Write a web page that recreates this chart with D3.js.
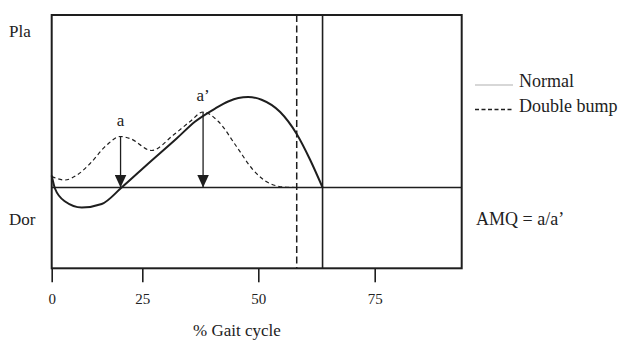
<!DOCTYPE html>
<html>
<head>
<meta charset="utf-8">
<script src="https://cdn.jsdelivr.net/npm/d3@7"></script>
<style>
  html, body { margin: 0; padding: 0; background: #fff; }
</style>
</head>
<body>
<svg id="chart" width="625" height="342"></svg>
<script>
// Ankle angle over the gait cycle (plantarflexion positive)
const xTicks = [0, 25, 50, 75];

const normalX = [0, 0.9, 3.7, 8.3, 13.8, 19.3, 26.3, 32.4, 36.4, 40.7, 43.5, 45.7, 47.8, 50.7, 54.7, 58.25, 61.1, 63.8];
const normalY = [1.2, -0.1, -1.4, -2.0, -1.65, 0, 2.4, 4.9, 6.6, 7.9, 8.6, 8.95, 9.05, 8.78, 7.55, 5.35, 2.8, 0];

const bumpX = [0, 3.6, 7.0, 10.6, 15.2, 18.9, 21.6, 27.0, 31.7, 35.3, 38.1, 41.4, 45.3, 48.9, 52.5, 56.1, 58.25];
const bumpY = [1.1, 0.75, 1.25, 2.4, 4.25, 5.1, 4.9, 3.7, 5.25, 6.6, 7.55, 6.6, 4.1, 1.75, 0.4, 0.02, 0];

// Peak-to-baseline arrows: a (first bump) and a' (second bump)
const arrowNames = ["a", "a\u2019"];
const arrowX = [19.0, 38.1];
const arrowTop = [5.1, 7.55];

// End of stance phase for each pattern
const toeOffNormal = 63.8;
const toeOffBump = 58.25;

const serif = "'Liberation Serif', 'Times New Roman', serif";
const ink = "#1e1e1e";

const svg = d3.select("#chart")
  .attr("font-family", serif)
  .style("font-family", serif);

const x = d3.scaleLinear()
  .domain([0, 25, 50, 75, 93.7])
  .range([51.7, 142.3, 258.3, 374.7, 461.7]);

const y = d3.scaleLinear()
  .domain([-8.08, 17.25])
  .range([268.3, 15]);

// Frame
svg.append("rect")
  .attr("x", x(0)).attr("y", y(17.25))
  .attr("width", x(93.7) - x(0)).attr("height", y(-8.08) - y(17.25))
  .attr("fill", "none").attr("stroke", ink).attr("stroke-width", 2);

// Zero line
svg.append("line")
  .attr("x1", x(0)).attr("x2", x(93.7))
  .attr("y1", y(0)).attr("y2", y(0))
  .attr("stroke", ink).attr("stroke-width", 1.5);

// Toe-off markers
svg.append("line")
  .attr("x1", x(toeOffNormal)).attr("x2", x(toeOffNormal))
  .attr("y1", y(17.25)).attr("y2", y(-8.08))
  .attr("stroke", ink).attr("stroke-width", 1.6);
svg.append("line")
  .attr("x1", x(toeOffBump)).attr("x2", x(toeOffBump))
  .attr("y1", y(17.25)).attr("y2", y(-8.08))
  .attr("stroke", ink).attr("stroke-width", 1.5)
  .attr("stroke-dasharray", "7,3.5");

// X axis
const xAxis = d3.axisBottom(x)
  .tickValues(xTicks)
  .tickSize(14)
  .tickPadding(11)
  .tickFormat(d3.format("d"));
const gx = svg.append("g")
  .attr("transform", `translate(0,${y(-8.08)})`)
  .call(xAxis)
  .attr("font-family", serif)
  .attr("font-size", 15);
gx.select(".domain").remove();
gx.selectAll(".tick line").attr("stroke", ink).attr("stroke-width", 1.6);
gx.selectAll(".tick text").attr("fill", "#222");

const line = d3.line()
  .x(d => x(d[0]))
  .y(d => y(d[1]))
  .curve(d3.curveMonotoneX);

// Double bump pattern
svg.append("path")
  .datum(d3.zip(bumpX, bumpY))
  .attr("d", line)
  .attr("fill", "none").attr("stroke", ink)
  .attr("stroke-width", 1.2).attr("stroke-dasharray", "4,3");

// Normal pattern
svg.append("path")
  .datum(d3.zip(normalX, normalY))
  .attr("d", line)
  .attr("fill", "none").attr("stroke", ink)
  .attr("stroke-width", 2);

// Arrowhead
svg.append("defs").append("marker")
  .attr("id", "head")
  .attr("markerUnits", "userSpaceOnUse")
  .attr("viewBox", "0 0 12 13")
  .attr("refX", 6).attr("refY", 13)
  .attr("markerWidth", 12).attr("markerHeight", 13)
  .attr("orient", "0")
  .append("path")
  .attr("d", "M0,0 L12,0 L6,13 Z")
  .attr("fill", ink);

const label = (sel, size) => sel
  .attr("font-family", serif)
  .attr("font-size", size)
  .attr("fill", "#222");

arrowX.forEach((ax, i) => {
  svg.append("line")
    .attr("x1", x(ax)).attr("x2", x(ax))
    .attr("y1", y(arrowTop[i])).attr("y2", y(0))
    .attr("stroke", ink).attr("stroke-width", 1.3)
    .attr("marker-end", "url(#head)");
  svg.append("text")
    .attr("x", x(ax))
    .attr("y", y(arrowTop[i]) - 11)
    .attr("text-anchor", "middle")
    .call(label, 17)
    .text(arrowNames[i]);
});

// Direction labels
svg.append("text").attr("x", 9).attr("y", 37).call(label, 17).text("Pla");
svg.append("text").attr("x", 9).attr("y", 225).call(label, 17).text("Dor");

// Axis title
svg.append("text")
  .attr("x", 237).attr("y", 336)
  .attr("text-anchor", "middle")
  .call(label, 17)
  .text("% Gait cycle");

// Legend
const legend = svg.append("g");
legend.append("line")
  .attr("x1", 475).attr("x2", 513).attr("y1", 85).attr("y2", 85)
  .attr("stroke", "#b0b0b0").attr("stroke-width", 1.2);
legend.append("text").attr("x", 519).attr("y", 87).call(label, 18).text("Normal");
legend.append("line")
  .attr("x1", 475).attr("x2", 513).attr("y1", 109.5).attr("y2", 109.5)
  .attr("stroke", ink).attr("stroke-width", 1.4).attr("stroke-dasharray", "4,2.5");
legend.append("text").attr("x", 519).attr("y", 112).call(label, 18).text("Double bump");

// Index definition
svg.append("text").attr("x", 476).attr("y", 225).call(label, 18).text("AMQ = a/a\u2019");
</script>
</body>
</html>
